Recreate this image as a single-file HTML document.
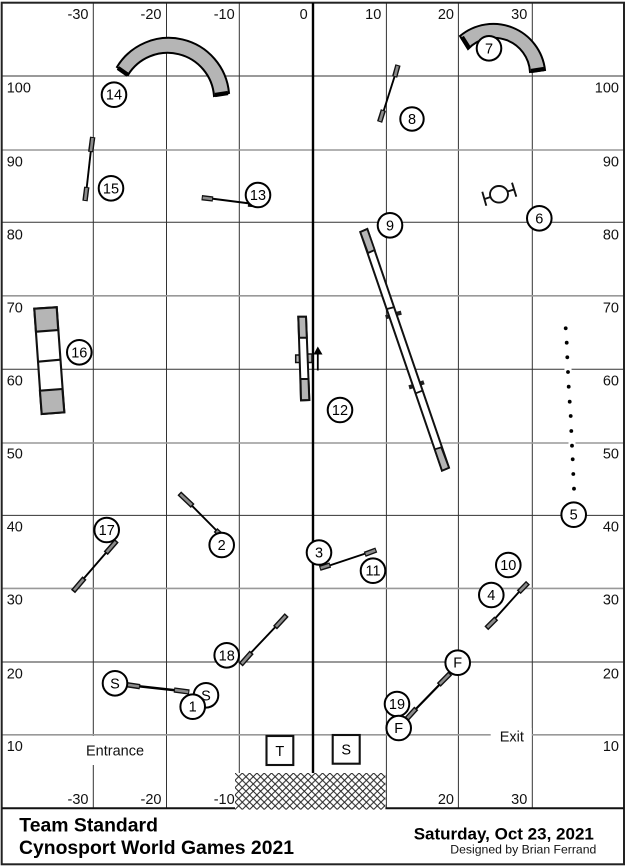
<!DOCTYPE html>
<html><head><meta charset="utf-8"><title>Team Standard</title>
<style>
html,body{margin:0;padding:0;background:#fff}
svg{display:block;font-family:"Liberation Sans",sans-serif}
.h1{stroke:#999;stroke-width:1.6}
.h2{stroke:#333;stroke-width:1}
.l{font-size:14.5px;fill:#111}
.r{font-size:14.5px;fill:#111;text-anchor:end}
.c circle{fill:#fff;stroke:#000;stroke-width:2}
.c text{font-size:14.5px;fill:#000;text-anchor:middle}
.j{stroke:#000;stroke-width:1.9}
.o{stroke:#111;stroke-width:5.4}
.i{stroke:#8c8c8c;stroke-width:2.6}
.b{font-weight:bold;fill:#000}
</style></head><body>
<svg width="627" height="867" viewBox="0 0 627 867" xmlns="http://www.w3.org/2000/svg">
<defs><pattern id="x" width="7.3" height="7.3" patternUnits="userSpaceOnUse" x="235" y="773">
<path d="M0 0L7.3 7.3M7.3 0L0 7.3" stroke="#222" stroke-width="1" fill="none"/></pattern></defs>
<rect width="627" height="867" fill="#fff"/>
<!-- grid -->
<g class="h2">
<line x1="93.3" y1="3" x2="93.3" y2="808"/><line x1="166.5" y1="3" x2="166.5" y2="808"/><line x1="239.3" y1="3" x2="239.3" y2="808"/>
<line x1="386.4" y1="3" x2="386.4" y2="808"/><line x1="458.4" y1="3" x2="458.4" y2="808"/><line x1="532.3" y1="3" x2="532.3" y2="808"/>
<line x1="2" y1="76" x2="624" y2="76"/><line x1="2" y1="222.3" x2="624" y2="222.3"/><line x1="2" y1="369.3" x2="624" y2="369.3"/><line x1="2" y1="515.4" x2="624" y2="515.4"/><line x1="2" y1="662" x2="624" y2="662"/>
</g>
<g class="h1">
<line x1="2" y1="150" x2="624" y2="150"/><line x1="2" y1="295.8" x2="624" y2="295.8"/><line x1="2" y1="443" x2="624" y2="443"/><line x1="2" y1="588.4" x2="624" y2="588.4"/><line x1="2" y1="734.8" x2="624" y2="734.8"/>
</g>
<!-- label masks -->
<rect x="85" y="736" width="60" height="29" fill="#fff"/>
<rect x="490.7" y="728" width="41" height="22" fill="#fff"/>
<text class="l" x="86" y="755.7">Entrance</text>
<text class="l" x="499.7" y="741.7">Exit</text>
<!-- frame -->
<rect x="1.7" y="2.7" width="622.3" height="861.6" fill="none" stroke="#222" stroke-width="2"/>
<line x1="2" y1="808.3" x2="624" y2="808.3" stroke="#111" stroke-width="2"/>
<!-- hatch -->
<rect x="235" y="773" width="150.4" height="36.6" fill="#fff"/>
<rect x="235" y="773" width="150.4" height="36.6" fill="url(#x)"/>
<line x1="313" y1="3" x2="313" y2="773" stroke="#000" stroke-width="2.4"/>
<!-- axis labels -->
<text class="r" x="88.5" y="19">-30</text><text class="r" x="161.5" y="19">-20</text><text class="r" x="234.7" y="19">-10</text><text class="r" x="307.7" y="19">0</text><text class="r" x="381.3" y="19">10</text><text class="r" x="454" y="19">20</text><text class="r" x="527.3" y="19">30</text>
<text class="r" x="88.5" y="804">-30</text><text class="r" x="161.5" y="804">-20</text><text class="r" x="234.7" y="804">-10</text><text class="r" x="454" y="804">20</text><text class="r" x="527.3" y="804">30</text>
<text class="l" x="6.7" y="92.7">100</text><text class="l" x="6.7" y="166.7">90</text><text class="l" x="6.7" y="239.3">80</text><text class="l" x="6.7" y="312.3">70</text><text class="l" x="6.7" y="385.7">60</text><text class="l" x="6.7" y="458.7">50</text><text class="l" x="6.7" y="531.7">40</text><text class="l" x="6.7" y="604.3">30</text><text class="l" x="6.7" y="678.3">20</text><text class="l" x="6.7" y="751">10</text>
<text class="r" x="619" y="92.7">100</text><text class="r" x="619" y="166.7">90</text><text class="r" x="619" y="239.3">80</text><text class="r" x="619" y="312.3">70</text><text class="r" x="619" y="385.7">60</text><text class="r" x="619" y="458.7">50</text><text class="r" x="619" y="531.7">40</text><text class="r" x="619" y="604.3">30</text><text class="r" x="619" y="678.3">20</text><text class="r" x="619" y="751">10</text>
<!-- tunnels -->
<path d="M117 67A60.5 60.5 0 0 1 229 93L214 96A46.5 46.5 0 0 0 128 75Z" fill="#b5b5b5" stroke="#000" stroke-width="2"/>
<path d="M118 68L128 75M215 95L228 93" stroke="#000" stroke-width="4.4" fill="none"/>
<path d="M460 36A52 52 0 0 1 545 70L530 72A36 36 0 0 0 468 49Z" fill="#b5b5b5" stroke="#000" stroke-width="2"/>
<path d="M462 37L469 48M531 71L544 69" stroke="#000" stroke-width="4.4" fill="none"/>
<!-- jumps: 8 -->
<g fill="none">
<line class="j" x1="396" y1="72" x2="382" y2="116"/><line class="o" x1="398" y1="65" x2="394.6" y2="77"/><line class="i" x1="397.6" y1="66" x2="395" y2="76"/><line class="o" x1="383.4" y1="110" x2="379.6" y2="122"/><line class="i" x1="383" y1="111" x2="380" y2="121"/>
<!-- 15 -->
<line class="j" x1="91.5" y1="145" x2="86" y2="194"/><line class="o" x1="92.7" y1="137" x2="90.7" y2="152"/><line class="i" x1="92.5" y1="138" x2="90.9" y2="151"/><line class="o" x1="86.8" y1="187" x2="85" y2="201"/><line class="i" x1="86.6" y1="188" x2="85.2" y2="200"/>
<!-- 13 -->
<line class="j" x1="207" y1="198" x2="250" y2="203.5"/><line class="o" x1="201.7" y1="197.7" x2="213" y2="199"/><line class="i" x1="202.7" y1="197.8" x2="212" y2="198.9"/><line class="o" x1="248" y1="204" x2="260" y2="205"/>
<!-- 2 -->
<line class="j" x1="186" y1="499.7" x2="218" y2="532"/><line class="o" x1="179.3" y1="493.3" x2="192.7" y2="506"/><line class="i" x1="180.3" y1="494.3" x2="191.7" y2="505"/><line class="o" x1="215.5" y1="530" x2="221" y2="535"/><line class="i" x1="216.5" y1="531" x2="220" y2="534"/>
<!-- 17 -->
<line class="j" x1="111" y1="547" x2="79" y2="584"/><line class="o" x1="116.7" y1="540.7" x2="105.7" y2="553.3"/><line class="i" x1="115.7" y1="541.8" x2="106.7" y2="552.2"/><line class="o" x1="84.5" y1="578" x2="73" y2="591.5"/><line class="i" x1="83.5" y1="579.2" x2="74" y2="590.3"/>
<!-- 3-11 -->
<line class="j" x1="325" y1="567" x2="370" y2="552"/><line class="o" x1="319.7" y1="568.3" x2="330.3" y2="565"/><line class="i" x1="320.7" y1="568" x2="329.3" y2="565.3"/><line class="o" x1="364.7" y1="554.3" x2="376.3" y2="550"/><line class="i" x1="365.7" y1="554" x2="375.3" y2="550.4"/>
<!-- 4 -->
<line class="j" x1="523" y1="587.5" x2="491" y2="623"/><line class="o" x1="528" y1="582.7" x2="518.7" y2="592.3"/><line class="i" x1="527" y1="583.7" x2="519.7" y2="591.3"/><line class="o" x1="496.3" y1="618.3" x2="486.3" y2="628.3"/><line class="i" x1="495.3" y1="619.3" x2="487.3" y2="627.3"/>
<!-- 18 -->
<line class="j" x1="281" y1="621" x2="246" y2="658"/><line class="o" x1="286.7" y1="615" x2="275" y2="627.7"/><line class="i" x1="285.7" y1="616" x2="276" y2="626.6"/><line class="o" x1="251.7" y1="652.3" x2="240.7" y2="664.7"/><line class="i" x1="250.7" y1="653.4" x2="241.7" y2="663.6"/>
<!-- finish -->
<line class="j" x1="445" y1="679" x2="411" y2="714" style="stroke-width:2.2"/><line class="o" x1="450.3" y1="673.3" x2="438.7" y2="685"/><line class="i" x1="449.3" y1="674.3" x2="439.7" y2="684"/><line class="o" x1="416.3" y1="708.3" x2="406.3" y2="719.3"/><line class="i" x1="415.3" y1="709.4" x2="407.3" y2="718.2"/>
<!-- start -->
<line class="j" x1="132" y1="685.5" x2="182" y2="691" style="stroke-width:2.4"/><line class="o" x1="124.3" y1="684.3" x2="140" y2="686.7"/><line class="i" x1="125.3" y1="684.5" x2="139" y2="686.5"/><line class="o" x1="174" y1="690" x2="189.3" y2="692"/><line class="i" x1="175" y1="690.1" x2="188.3" y2="691.9"/>
</g>
<!-- long jump 16 -->
<polygon points="34.3,308.7 56.7,307.3 64.3,412.3 41.7,414" fill="#fff" stroke="#111" stroke-width="2.1"/>
<polygon points="34.3,308.7 56.7,307.3 58.2,330 36,331.7" fill="#b5b5b5" stroke="#111" stroke-width="2.1"/>
<polygon points="39.9,390.7 62.4,389 64.3,412.3 41.7,414" fill="#b5b5b5" stroke="#111" stroke-width="2.1"/>
<line x1="38" y1="361.7" x2="60.4" y2="359.7" stroke="#111" stroke-width="2.1"/>
<!-- teeter -->
<rect x="295.7" y="355" width="4.4" height="7.5" fill="#b5b5b5" stroke="#111" stroke-width="1.5"/>
<rect x="307.7" y="354" width="4.3" height="8.5" fill="#b5b5b5" stroke="#111" stroke-width="1.5"/>
<polygon points="298.3,316.7 306,316.7 309.3,400 301,400.3" fill="#fff" stroke="#111" stroke-width="2"/>
<polygon points="298.3,316.7 306,316.7 306.8,337.7 299.1,337.7" fill="#b5b5b5" stroke="#111" stroke-width="2"/>
<polygon points="300.5,379 308.5,379 309.3,400 301,400.3" fill="#b5b5b5" stroke="#111" stroke-width="2"/>
<line x1="317.8" y1="352" x2="317.8" y2="370.5" stroke="#000" stroke-width="1.8"/>
<polygon points="317.8,346.5 322.5,354.5 313.5,354.5" fill="#000"/>
<!-- dogwalk -->
<path d="M385.7 317.3L390 316M396 314L401.3 312.7M409 387.3L413.7 386M419 384L424 382.3" stroke="#222" stroke-width="4.2" fill="none"/>
<polygon points="360.3,232 367.3,229 449,467.7 442,470.7" fill="#fff" stroke="#111" stroke-width="2"/>
<polygon points="360.3,232 367.3,229 374.7,250 368,253" fill="#b5b5b5" stroke="#111" stroke-width="1.8"/>
<polygon points="434.7,449.3 441.3,447.3 449,467.7 442,470.7" fill="#b5b5b5" stroke="#111" stroke-width="1.8"/>
<path d="M387 309L394.7 307M415.7 393.3L422.3 390.7" stroke="#111" stroke-width="1.8" fill="none"/>
<!-- tire -->
<g fill="none" stroke="#111" stroke-width="1.9">
<path d="M482.3 191.7L486.3 205.7M512 182.7L516.3 196.7M484.7 199L490.5 197M507.5 191.5L514 189.5"/>
<ellipse cx="499" cy="194.3" rx="9" ry="8.3"/>
</g>
<!-- weaves -->
<g fill="#fff"><circle cx="568" cy="369.3" r="3.6"/><circle cx="572" cy="443" r="3.6"/></g>
<g fill="#000">
<circle cx="565.7" cy="328.3" r="1.9"/><circle cx="566.7" cy="342.7" r="1.9"/><circle cx="567.3" cy="357.3" r="1.9"/><circle cx="568" cy="372" r="1.9"/><circle cx="568.7" cy="386.7" r="1.9"/><circle cx="569.7" cy="401.7" r="1.9"/><circle cx="570.7" cy="416" r="1.9"/><circle cx="571.3" cy="431" r="1.9"/><circle cx="572" cy="445.7" r="1.9"/><circle cx="572.7" cy="459.3" r="1.9"/><circle cx="573.3" cy="474" r="1.9"/><circle cx="574" cy="488.7" r="1.9"/>
</g>
<!-- start/timer boxes -->
<rect x="266.5" y="736" width="26.8" height="29" fill="#fff" stroke="#111" stroke-width="2.1"/>
<text x="279.8" y="756" font-size="14.5" text-anchor="middle" fill="#000">T</text>
<rect x="332.7" y="735" width="27" height="28.7" fill="#fff" stroke="#111" stroke-width="2.1"/>
<text x="346.2" y="754.5" font-size="14.5" text-anchor="middle" fill="#000">S</text>
<!-- number circles -->
<g class="c">
<circle cx="489" cy="48.3" r="12.3"/><text x="489" y="53.3">7</text>
<circle cx="114" cy="94.7" r="12.3"/><text x="114" y="99.7">14</text>
<circle cx="412" cy="119" r="11.7"/><text x="412" y="124">8</text>
<circle cx="111" cy="188.3" r="12.3"/><text x="111" y="193.3">15</text>
<circle cx="258" cy="195" r="12.3"/><text x="258" y="200">13</text>
<circle cx="390" cy="225.3" r="12.3"/><text x="390" y="230.3">9</text>
<circle cx="539.3" cy="218.3" r="12.3"/><text x="539.3" y="223.3">6</text>
<circle cx="79.3" cy="352.3" r="12.3"/><text x="79.3" y="357.3">16</text>
<circle cx="340" cy="410" r="12.3"/><text x="340" y="415">12</text>
<circle cx="573.7" cy="514.7" r="12.3"/><text x="573.7" y="519.7">5</text>
<circle cx="106.7" cy="530" r="12.3"/><text x="106.7" y="535">17</text>
<circle cx="221.7" cy="545" r="12.3"/><text x="221.7" y="550">2</text>
<circle cx="319" cy="552.5" r="12.3"/><text x="319" y="557.5">3</text>
<circle cx="373" cy="570.7" r="12.3"/><text x="373" y="575.7">11</text>
<circle cx="508.3" cy="565" r="12.3"/><text x="508.3" y="570">10</text>
<circle cx="491.3" cy="595" r="12.3"/><text x="491.3" y="600">4</text>
<circle cx="226.7" cy="655.3" r="12.3"/><text x="226.7" y="660.3">18</text>
<circle cx="115" cy="683.3" r="12.3"/><text x="115" y="688.3">S</text>
<circle cx="206" cy="695.3" r="12.3"/><text x="206" y="700.3">S</text>
<circle cx="192.7" cy="706.7" r="12.3"/><text x="192.7" y="711.7">1</text>
<circle cx="457.7" cy="662.7" r="12.3"/><text x="457.7" y="667.7">F</text>
<circle cx="397" cy="704" r="12.3"/><text x="397" y="709">19</text>
<circle cx="398.7" cy="728" r="12.3"/><text x="398.7" y="733">F</text>
</g>
<!-- titles -->
<text class="b" x="19.3" y="831.7" font-size="19.4">Team Standard</text>
<text class="b" x="19" y="854" font-size="19.4" textLength="275" lengthAdjust="spacingAndGlyphs">Cynosport World Games 2021</text>
<text class="b" x="413.7" y="839.3" font-size="17">Saturday, Oct 23, 2021</text>
<text x="450.3" y="853.3" font-size="12.2" fill="#111" textLength="146" lengthAdjust="spacingAndGlyphs">Designed by Brian Ferrand</text>
</svg>
</body></html>
